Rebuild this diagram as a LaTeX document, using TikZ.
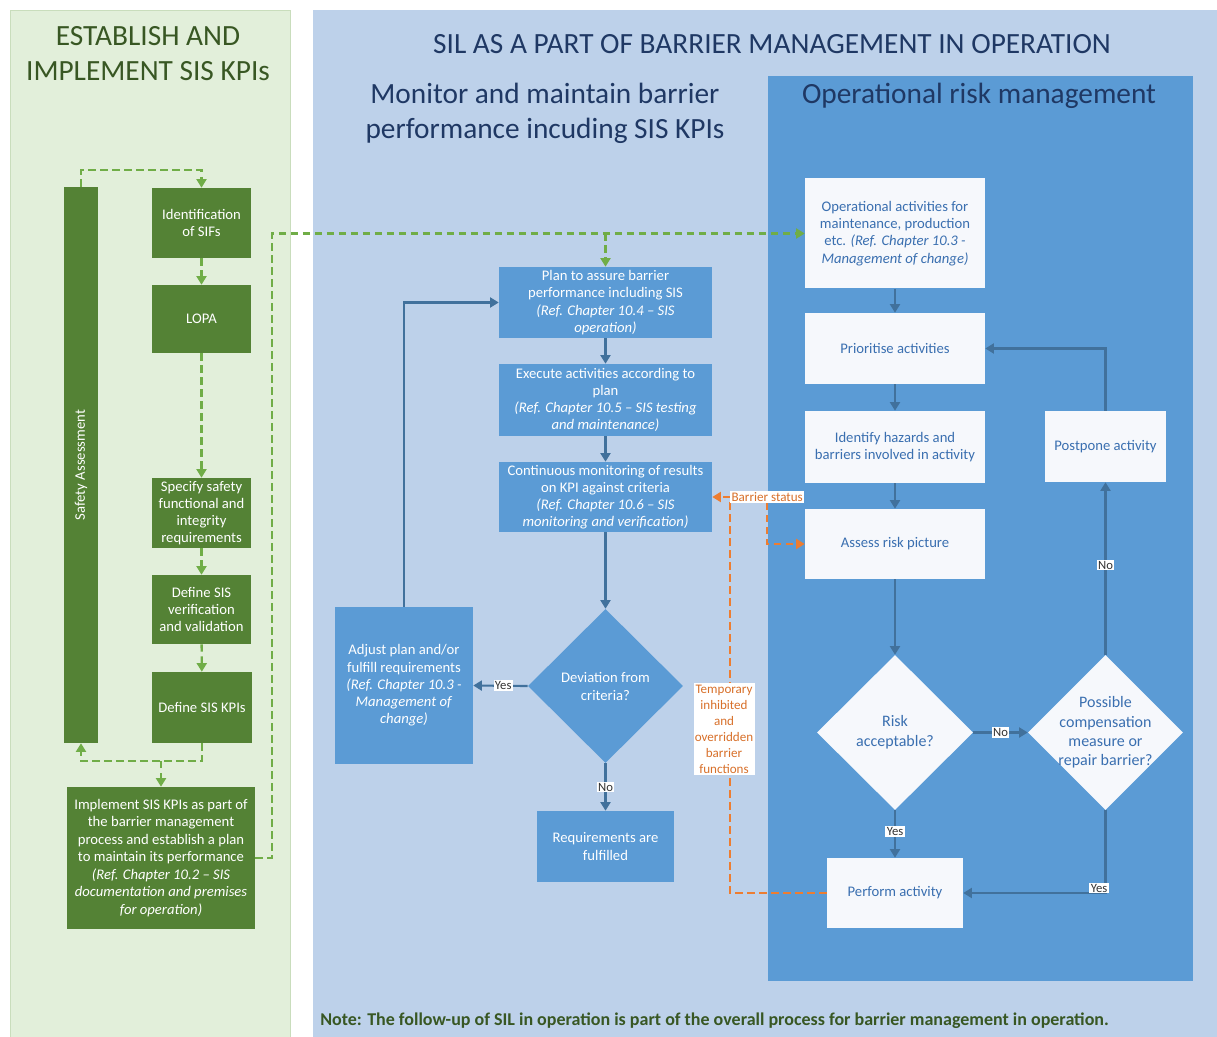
\documentclass[tikz,border=0pt]{standalone}
\usepackage{fontspec}
\setmainfont{Carlito}
\usetikzlibrary{arrows.meta,shapes.geometric,calc}
\definecolor{gpanel}{HTML}{E2EFDA}
\definecolor{gpanelb}{HTML}{C9DDBC}
\definecolor{gboxc}{HTML}{548235}
\definecolor{glinec}{HTML}{70AD47}
\definecolor{gtitle}{HTML}{385723}
\definecolor{bpanel}{HTML}{BDD1EA}
\definecolor{bboxc}{HTML}{5B9BD5}
\definecolor{blinec}{HTML}{41719C}
\definecolor{btitle}{HTML}{1F3864}
\definecolor{wtext}{HTML}{3A6FB0}
\definecolor{wfill}{HTML}{F6F8FC}
\definecolor{olinec}{HTML}{ED7D31}
\definecolor{otext}{HTML}{D8702A}
\begin{document}
\begin{tikzpicture}[x=0.75pt,y=-0.75pt,
  sz/.style 2 args={minimum width=#1*0.75pt,minimum height=#2*0.75pt},
  txt/.style={font=\fontsize{11}{12.9}\selectfont,align=center,inner sep=0pt},
  gb/.style={txt,fill=gboxc,text=white},
  bb/.style={txt,fill=bboxc,text=white},
  wb/.style={txt,fill=wfill,text=wtext},
  dia/.style={diamond,aspect=1,inner sep=0pt},
  tip/.style={-{Triangle[length=6.5pt,width=7.5pt]}},
  garr/.style={draw=glinec,line width=1.8pt,dash pattern=on 5.5pt off 3.5pt,tip},
  barr/.style={draw=blinec,line width=1.6pt,tip},
  oarr/.style={draw=olinec,line width=1.8pt,dash pattern=on 5.5pt off 3.5pt,tip},
  lbl/.style={fill=white,inner sep=1pt,text=black!80,font=\fontsize{9.5}{10}\selectfont},
  olbl/.style={fill=white,inner sep=1.5pt,text=otext,align=center,font=\fontsize{9.8}{12}\selectfont}
]
\useasboundingbox (0,0) rectangle (1217,1037);
\fill[white] (0,0) rectangle (1217,1037);
% panels
\filldraw[fill=gpanel,draw=gpanelb,line width=0.6pt] (10,10) rectangle (290,1040);
\fill[bpanel] (313,10) rectangle (1220,1040);
\fill[bboxc] (768,76) rectangle (1193,981);
% titles
\node[font=\fontsize{22}{26.3}\selectfont,text=gtitle,align=center] (t1) at (148,54) {ESTABLISH AND\\IMPLEMENT SIS KPIs};
\node[font=\fontsize{22}{26.3}\selectfont,text=btitle] (t2) at (772,44) {SIL AS A PART OF BARRIER MANAGEMENT IN OPERATION};
\node[font=\fontsize{22}{26.3}\selectfont,text=btitle,align=center] (t3) at (545,113) {Monitor and maintain barrier\\performance incuding SIS KPIs};
\node[font=\fontsize{22}{26.3}\selectfont,text=btitle] (t4) at (979,96) {Operational risk management};
\node[font=\fontsize{13.5}{15}\selectfont\bfseries,text=gtitle,anchor=west,inner sep=0pt] (note) at (320,1021) {Note: The follow-up of SIL in operation is part of the overall process for barrier management in operation.};

% left column
\node[gb,sz={34}{556}] (sa) at (81,465) {\rotatebox{90}{Safety Assessment}};
\node[gb,sz={99}{70}] (sif) at (201.5,223) {Identification\\of SIFs};
\node[gb,sz={99}{68}] (lopa) at (201.5,319) {LOPA};
\node[gb,sz={99}{70}] (spec) at (201.5,513) {Specify safety\\functional and\\integrity\\requirements};
\node[gb,sz={99}{69}] (dver) at (201.5,609.5) {Define SIS\\verification\\and validation};
\node[gb,sz={100}{71}] (dkpi) at (202,707.5) {Define SIS KPIs};
\node[gb,sz={188}{142},font=\fontsize{11}{13.1}\selectfont] (impl) at (161,858) {Implement SIS KPIs as part of\\the barrier management\\process and establish a plan\\to maintain its performance\\\textit{(Ref. Chapter 10.2 – SIS}\\\textit{documentation and premises}\\\textit{for operation)}};

% middle column
\node[bb,sz={213}{71}] (plan) at (605.5,302.5) {Plan to assure barrier\\performance including SIS\\\textit{(Ref. Chapter 10.4 – SIS}\\\textit{operation)}};
\node[bb,sz={213}{72}] (exec) at (605.5,400) {Execute activities according to\\plan\\\textit{(Ref. Chapter 10.5 – SIS testing}\\\textit{and maintenance)}};
\node[bb,sz={213}{70}] (cont) at (605.5,497) {Continuous monitoring of results\\on KPI against criteria\\\textit{(Ref. Chapter 10.6 – SIS}\\\textit{monitoring and verification)}};
\node[dia,fill=bboxc,sz={155}{154}] (dev) at (605.5,686) {};
\node[txt,text=white,font=\fontsize{11}{13.5}\selectfont] (devt) at (605.5,686) {Deviation from\\criteria?};
\node[bb,sz={138}{157}] (adj) at (404,685.5) {Adjust plan and/or\\fulfill requirements\\\textit{(Ref. Chapter 10.3 -}\\\textit{Management of}\\\textit{change)}};
\node[bb,sz={137}{71}] (req) at (605.5,846.5) {Requirements are\\fulfilled};

% right column
\node[wb,sz={180}{110}] (op) at (895,233.5) {Operational activities for\\maintenance, production\\etc. \textit{(Ref. Chapter 10.3 -}\\\textit{Management of change)}};
\node[wb,sz={180}{71}] (pri) at (895,348.5) {Prioritise activities};
\node[wb,sz={180}{72}] (ide) at (895,447) {Identify hazards and\\barriers involved in activity};
\node[wb,sz={121}{71}] (post) at (1105.5,446.5) {Postpone activity};
\node[wb,sz={180}{70}] (ass) at (895,544) {Assess risk picture};
\node[dia,fill=wfill,sz={156}{155}] (risk) at (895,732.5) {};
\node[txt,text=wtext,font=\fontsize{12}{15}\selectfont] (riskt) at (895,732.5) {Risk\\acceptable?};
\node[dia,fill=wfill,sz={155}{155}] (poss) at (1105.5,732.5) {};
\node[txt,text=wtext,font=\fontsize{12}{14.4}\selectfont] (posst) at (1105.5,732.5) {Possible\\compensation\\measure or\\repair barrier?};
\node[wb,sz={136}{70}] (perf) at (895,893) {Perform activity};

% green dashed connectors
\coordinate (gsa) at (81,170);
\draw[garr] (sa.north) -- (gsa) -| (sif.north);
\draw[garr] (sif) -- (lopa);
\draw[garr] (lopa) -- (spec);
\draw[garr] (spec) -- (dver);
\draw[garr] (dver) -- (dkpi);
\coordinate (gj) at (161,761);
\draw[garr] (dkpi.south) -- (dkpi.south |- gj) -| (sa.south);
\draw[garr] (gj) -- (impl.north);
\coordinate (gr) at (272,233.5);
\draw[garr] (impl.east) -| (gr) -- (op.west);
\draw[garr] (plan.north |- gr) -- (plan.north);

% blue connectors middle
\draw[barr] (plan) -- (exec);
\draw[barr] (exec) -- (cont);
\draw[barr] (cont) -- (dev.north);
\draw[barr] (dev.west) -- (adj.east) node[lbl,pos=0.45] (ly1) {Yes};
\draw[barr] (dev.south) -- (req.north) node[lbl,pos=0.5] (ln1) {No};
\draw[barr] (adj.north) |- (plan.west);

% blue connectors right
\draw[barr] (op) -- (pri);
\draw[barr] (pri) -- (ide);
\draw[barr] (ide) -- (ass);
\draw[barr] (ass) -- (risk.north);
\draw[barr] (risk.south) -- (perf.north) node[lbl,pos=0.45] (ly2) {Yes};
\draw[barr] (risk.east) -- (poss.west) node[lbl,pos=0.5] (ln2) {No};
\draw[barr] (poss.north) -- (post.south) node[lbl,pos=0.52] (ln3) {No};
\draw[barr] (post.north) |- (pri.east);
\draw[barr] (poss.south) |- (perf.east);
\node[lbl] (ly3) at (1099,888) {Yes};

% orange connectors
\coordinate (oc) at (730,497);
\draw[oarr] (perf.west) -| (oc) -- (cont.east);
\node[olbl,anchor=west,inner sep=1pt] (bst) at (730,497) {Barrier status};
\draw[oarr] (bst.south -| 767,0) |- (ass.west);
\node[olbl,inner sep=1pt] (tmp) at (724,729) {Temporary\\inhibited\\and\\overridden\\barrier\\functions};
\end{tikzpicture}
\end{document}
